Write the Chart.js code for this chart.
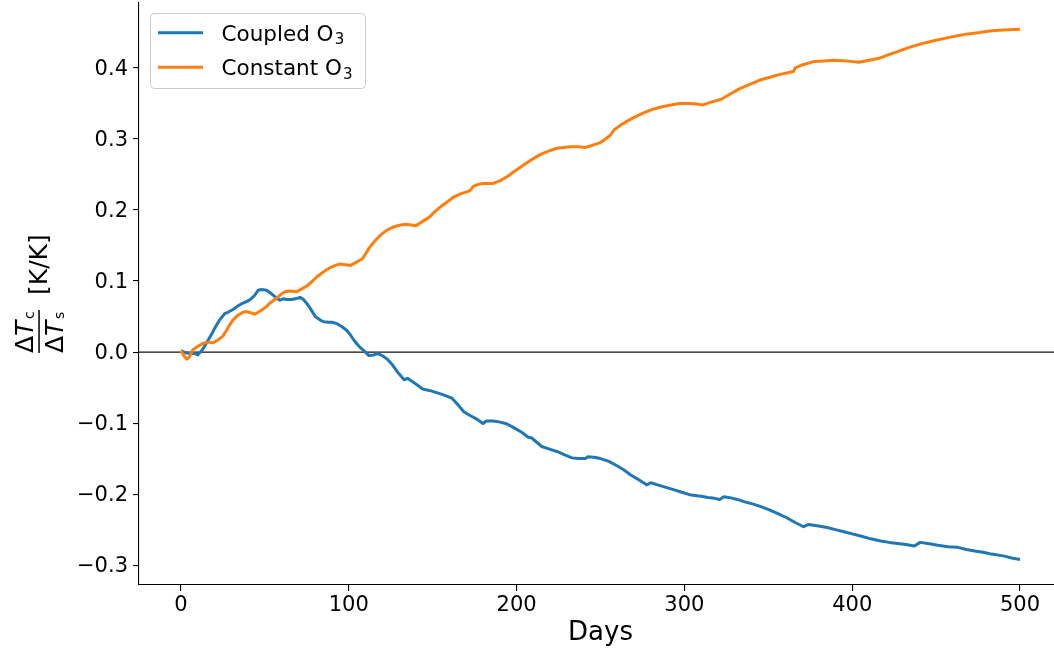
<!DOCTYPE html>
<html>
<head>
<meta charset="utf-8">
<script src="https://cdn.jsdelivr.net/npm/chart.js@4"></script>
<style>
html,body{margin:0;padding:0;background:#fff;overflow:hidden;}
#wrap{width:1054px;height:653px;overflow:hidden;position:relative;}
#c{position:absolute;left:0;top:0;}
</style>
</head>
<body>
<div id="wrap"><canvas id="c" width="1062" height="653"></canvas></div>
<script>
// ---- data ----
const seriesNames = ["Coupled O", "Constant O"];
const seriesColors = ["#1f77b4", "#ff7f0e"];

const coupledDays = [0,3,5,8,10,13,15,18,20,23,26,28,31,34,37,40,42,44,46,48,51,54,56,59,61,63,66,69,71,73,75,78,80,83,85,88,90,93,96,99,101,103,105,107,109,112,115,117,120,123,126,129,133,135,140,144,148,151,156,161.5,165,168.5,172,176,180,182,186,189,194,198,203,207,209,212,215,220,224,229,233,237,241,242.5,246,250,255,259,264,268,273,277.5,280,284,289,294,298,304,310,314,318,321,323.5,327,331.5,336,341.5,346,351,356,361,366,371,374,380,385,390,395,400,405,411,417,422,427,432,437,440.5,446,451,457,463,468,473,478,483,490,495,500];
const coupledValues = [0.002,-0.001,-0.002,-0.002,-0.004,0.004,0.012,0.024,0.033,0.045,0.054,0.056,0.060,0.065,0.069,0.072,0.0755,0.080,0.087,0.088,0.087,0.082,0.078,0.073,0.075,0.074,0.074,0.0755,0.077,0.074,0.0685,0.058,0.050,0.045,0.0427,0.042,0.042,0.040,0.0356,0.030,0.024,0.017,0.011,0.006,0.002,-0.005,-0.004,-0.002,-0.005,-0.010,-0.018,-0.028,-0.039,-0.037,-0.045,-0.052,-0.054,-0.056,-0.060,-0.065,-0.074,-0.084,-0.089,-0.094,-0.1005,-0.097,-0.097,-0.098,-0.101,-0.106,-0.113,-0.120,-0.121,-0.127,-0.133,-0.137,-0.140,-0.145,-0.149,-0.150,-0.150,-0.1475,-0.148,-0.150,-0.154,-0.159,-0.166,-0.173,-0.180,-0.187,-0.184,-0.187,-0.1906,-0.194,-0.197,-0.2014,-0.203,-0.2047,-0.206,-0.2075,-0.2038,-0.205,-0.2075,-0.211,-0.2145,-0.218,-0.2225,-0.228,-0.2333,-0.240,-0.246,-0.2427,-0.245,-0.247,-0.250,-0.253,-0.256,-0.259,-0.263,-0.266,-0.268,-0.2695,-0.271,-0.273,-0.268,-0.270,-0.272,-0.274,-0.275,-0.278,-0.280,-0.282,-0.2845,-0.287,-0.290,-0.292];

const constantDays = [0,2,3.5,5,7,10,13,16,19,22,25,27,29,31,34,37,39,42,44,46,48,51,53,56,58,60,62,65,69,72,75,78,81,85,89,92,95,98,101,104,108,110,112,115,119,123,127,131,134,137,140,144,148,151,155,159,163,167,172,173,174,177,180,186,190,195,199,204,209,214,219,224,228,232,237,241,245,250,253,256,258,263,268,274,280,286,292,297,302,306,311,316,322,327,333,339,345,351,357,361,365,366,371,377,383,389,396,404,410,416,421,427,434,441,448,455,462,469,476,483,490,500];
const constantValues = [0.002,-0.006,-0.010,-0.007,0.003,0.008,0.012,0.014,0.013,0.017,0.0225,0.030,0.038,0.045,0.052,0.056,0.057,0.055,0.0535,0.056,0.059,0.064,0.069,0.074,0.078,0.082,0.085,0.086,0.085,0.089,0.093,0.099,0.106,0.113,0.119,0.122,0.124,0.123,0.122,0.126,0.131,0.138,0.146,0.155,0.165,0.172,0.1765,0.179,0.180,0.179,0.178,0.184,0.190,0.197,0.205,0.212,0.219,0.223,0.227,0.229,0.233,0.236,0.2375,0.2375,0.241,0.248,0.255,0.263,0.271,0.278,0.283,0.287,0.288,0.289,0.289,0.288,0.291,0.295,0.300,0.3056,0.3127,0.321,0.328,0.335,0.341,0.345,0.348,0.350,0.350,0.3495,0.348,0.352,0.356,0.363,0.371,0.377,0.383,0.387,0.391,0.393,0.395,0.400,0.405,0.409,0.410,0.411,0.410,0.408,0.411,0.4136,0.418,0.423,0.429,0.434,0.438,0.4417,0.445,0.448,0.450,0.4525,0.4535,0.4545];

const xTicks = [0,100,200,300,400,500];
const yTicks = [-0.3,-0.2,-0.1,0.0,0.1,0.2,0.3,0.4];
const xTitle = "Days";

// ---- helpers ----
const FONT = "'DejaVu Sans', 'Liberation Sans', sans-serif";
const toXY = (xs, ys) => xs.map((x, i) => ({x: x, y: ys[i]}));
const fmtY = v => (Math.abs(v) < 1e-9 ? "0.0" : v.toFixed(1).replace("-", "\u2212"));

const zeroLine = {
  id: 'zeroLine',
  beforeDatasetsDraw(chart) {
    const {ctx, chartArea, scales} = chart;
    const y = scales.y.getPixelForValue(0);
    ctx.save();
    ctx.strokeStyle = '#111';
    ctx.lineWidth = 1.2;
    ctx.beginPath();
    ctx.moveTo(chartArea.left, y);
    ctx.lineTo(chartArea.right, y);
    ctx.stroke();
    ctx.restore();
  }
};

const decorations = {
  id: 'decorations',
  afterDraw(chart) {
    const ctx = chart.ctx;
    // ---- legend ----
    ctx.save();
    const bx = 150.5, by = 13.5, bw = 215, bh = 75, r = 4;
    ctx.beginPath();
    ctx.moveTo(bx + r, by);
    ctx.lineTo(bx + bw - r, by);
    ctx.arcTo(bx + bw, by, bx + bw, by + r, r);
    ctx.lineTo(bx + bw, by + bh - r);
    ctx.arcTo(bx + bw, by + bh, bx + bw - r, by + bh, r);
    ctx.lineTo(bx + r, by + bh);
    ctx.arcTo(bx, by + bh, bx, by + bh - r, r);
    ctx.lineTo(bx, by + r);
    ctx.arcTo(bx, by, bx + r, by, r);
    ctx.closePath();
    ctx.fillStyle = 'rgba(255,255,255,0.8)';
    ctx.fill();
    ctx.strokeStyle = '#cccccc';
    ctx.lineWidth = 1;
    ctx.stroke();
    const rows = [{y: 32.7, base: 40.7}, {y: 67.3, base: 75.3}];
    seriesNames.forEach((name, i) => {
      ctx.strokeStyle = seriesColors[i];
      ctx.lineWidth = 3;
      ctx.beginPath();
      ctx.moveTo(158, rows[i].y);
      ctx.lineTo(203, rows[i].y);
      ctx.stroke();
      ctx.fillStyle = '#000';
      ctx.textBaseline = 'alphabetic';
      ctx.textAlign = 'left';
      ctx.font = '21.5px ' + FONT;
      ctx.fillText(name, 221.5, rows[i].base);
      const w = ctx.measureText(name).width;
      ctx.font = '15px ' + FONT;
      ctx.fillText('3', 221.5 + w + 1.2, rows[i].base + 3.3);
    });
    ctx.restore();

    // ---- y axis label (rotated fraction) ----
    ctx.save();
    ctx.translate(0, 355);
    ctx.rotate(-Math.PI / 2);
    ctx.fillStyle = '#000';
    ctx.textBaseline = 'alphabetic';
    ctx.textAlign = 'left';
    const drawDT = (base, sub) => {
      ctx.font = '25px ' + FONT;
      ctx.fillText('\u0394', 2, base);
      const dw = ctx.measureText('\u0394').width;
      ctx.font = 'italic 25px ' + FONT;
      ctx.fillText('T', 2 + dw, base);
      ctx.font = '14px ' + FONT;
      ctx.fillText(sub, 36, base + 0.5);
    };
    drawDT(33, 'c');
    drawDT(63, 's');
    ctx.fillRect(2, 38.3, 43, 1.5);
    ctx.font = '25px ' + FONT;
    ctx.fillText('[K/K]', 60, 46.7);
    ctx.restore();
  }
};

new Chart(document.getElementById('c'), {
  type: 'line',
  data: {
    datasets: [
      {
        label: seriesNames[0] + '\u2083',
        data: toXY(coupledDays, coupledValues),
        borderColor: seriesColors[0],
        backgroundColor: seriesColors[0],
        borderWidth: 3,
        pointRadius: 0,
        tension: 0,
        fill: false,
        borderJoinStyle: 'round',
        order: 2
      },
      {
        label: seriesNames[1] + '\u2083',
        data: toXY(constantDays, constantValues),
        borderColor: seriesColors[1],
        backgroundColor: seriesColors[1],
        borderWidth: 3,
        pointRadius: 0,
        tension: 0,
        fill: false,
        borderJoinStyle: 'round',
        order: 1
      }
    ]
  },
  options: {
    responsive: false,
    animation: false,
    events: [],
    layout: { padding: { left: 0, right: 0, top: 3, bottom: 0 } },
    plugins: { legend: { display: false }, tooltip: { enabled: false } },
    scales: {
      x: {
        type: 'linear',
        min: -25,
        max: 525,
        afterFit(s) { s.height = 68; s.paddingLeft = 0; s.paddingRight = 0; },
        afterBuildTicks(s) { s.ticks = xTicks.map(v => ({value: v})); },
        ticks: {
          autoSkip: false,
          maxRotation: 0,
          padding: 2,
          color: '#000',
          font: { family: FONT, size: 21 },
          callback: v => String(v)
        },
        grid: { display: true, drawOnChartArea: false, drawTicks: true, tickLength: 6, color: '#000', tickColor: '#000', lineWidth: 1.1 },
        border: { display: true, color: '#000', width: 1.1 },
        title: { display: true, text: xTitle, color: '#000', font: { family: FONT, size: 26 }, padding: { top: 0, bottom: 4 } }
      },
      y: {
        type: 'linear',
        min: -0.328,
        max: 0.4915,
        afterFit(s) { s.width = 139; s.paddingTop = 0; s.paddingBottom = 0; },
        afterBuildTicks(s) { s.ticks = yTicks.map(v => ({value: v})); },
        ticks: {
          autoSkip: false,
          padding: 5,
          labelOffset: 1.5,
          color: '#000',
          font: { family: FONT, size: 21 },
          callback: v => fmtY(v)
        },
        grid: { display: true, drawOnChartArea: false, drawTicks: true, tickLength: 6, color: '#000', tickColor: '#000', lineWidth: 1.1 },
        border: { display: true, color: '#000', width: 1.1 }
      }
    }
  },
  plugins: [zeroLine, decorations]
});
</script>
</body>
</html>
